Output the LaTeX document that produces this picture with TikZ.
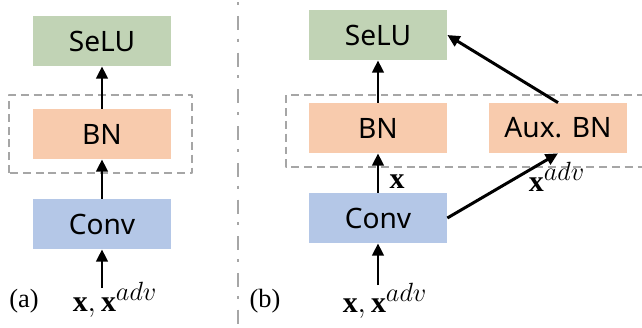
\documentclass[tikz,border=0pt]{standalone}
\usepackage{amsmath,amssymb}
\usepackage{graphicx}
\usepackage{fontspec}
\setmainfont{Liberation Serif}
\newfontfamily\boxfont{Noto Sans}
\usetikzlibrary{arrows.meta}
\definecolor{selugreen}{RGB}{193,211,181}
\definecolor{bnorange}{RGB}{248,203,173}
\definecolor{convblue}{RGB}{180,199,231}
\definecolor{dashgray}{RGB}{166,166,166}
\newcommand{\xadv}{\mathbf{x}^{\scalebox{1.25}{$\scriptstyle adv$}}}

\begin{document}
\begin{tikzpicture}[line cap=round,line join=round,x=1.0cm,y=1.0cm,
    block/.style={minimum width=2.76cm, minimum height=1cm, inner sep=0pt,
        font=\boxfont\fontsize{16}{19}\selectfont},
    flow/.style={-{Triangle[length=7pt,width=6.5pt]}, line width=1.7pt, line cap=butt},
    bngroup/.style={dashgray, line width=1.1pt, line cap=butt, dash pattern=on 4.5pt off 2.8pt},
    tag/.style={inner sep=0pt, font=\fontsize{17}{20}\selectfont}]
    \useasboundingbox (0,0) rectangle (12.84,6.54);
    % (a) plain network
    \node[block, fill=selugreen] (seluA) at (2.04,5.72) {SeLU};
    \node[block, fill=bnorange] (bnA) at (2.04,3.86) {BN};
    \node[block, fill=convblue] (convA) at (2.04,2.06) {Conv};
    \draw [bngroup] (0.18,3.08) rectangle (3.84,4.64);
    \coordinate (inA) at (2.04,0.78);
    \draw [flow] (inA) -- (convA);
    \draw [flow] (convA) -- (bnA);
    \draw [flow] (bnA) -- (seluA);
    \node[tag] (xA) at (2.3,0.54) {$\mathbf{x},\xadv$};
    \node[tag, font=\fontsize{15}{18}\selectfont] (capA) at (0.48,0.52) {(a)};
    % separator
    \draw [dashgray, line width=1.7pt, line cap=butt, dash pattern=on 1.7pt off 6.2pt on 8pt off 5pt] (4.76,6.50) -- (4.76,0);
    % (b) auxiliary BN
    \node[block, fill=selugreen] (seluB) at (7.56,5.84) {SeLU};
    \node[block, fill=bnorange] (bnB) at (7.56,3.98) {BN};
    \node[block, fill=bnorange] (auxB) at (11.16,3.98) {Aux. BN};
    \node[block, fill=convblue] (convB) at (7.56,2.18) {Conv};
    \draw [bngroup] (12.9,4.64) -- (5.72,4.64) -- (5.72,3.2) -- (12.9,3.2);
    \coordinate (inB) at (7.56,0.84);
    \draw [flow] (inB) -- (convB);
    \draw [flow] (convB) -- (bnB);
    \draw [flow] (bnB) -- (seluB);
    \draw [flow] (convB.east) -- (auxB.south);
    \draw [flow] (auxB.north) -- (seluB.east);
    \node[tag] (xB) at (7.94,2.9) {$\mathbf{x}$};
    \node[tag] (xadvB) at (11.14,3.0) {$\xadv$};
    \node[tag] (inlabB) at (7.7,0.52) {$\mathbf{x},\xadv$};
    \node[tag, font=\fontsize{15}{18}\selectfont] (capB) at (5.3,0.52) {(b)};
\end{tikzpicture}
\end{document}
